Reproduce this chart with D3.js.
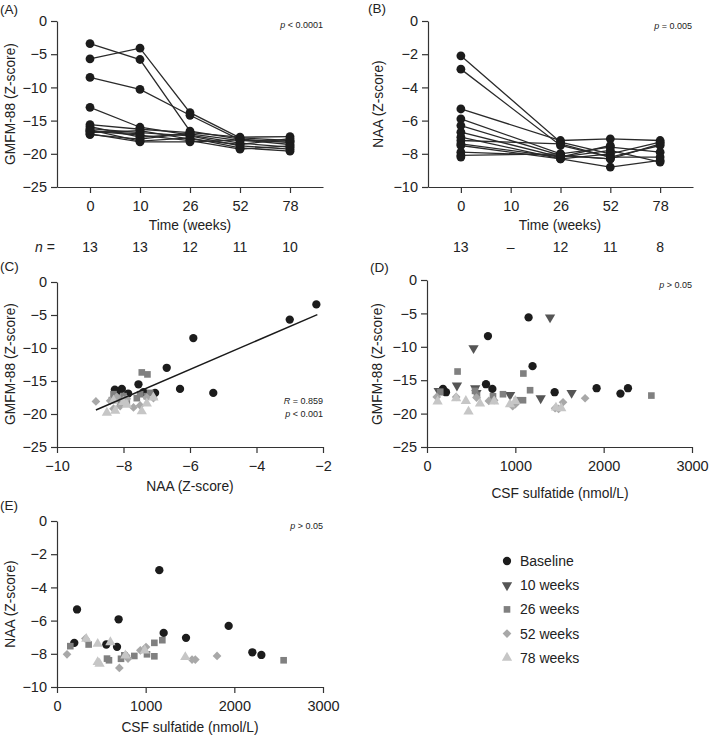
<!DOCTYPE html>
<html>
<head>
<meta charset="utf-8">
<script src="https://cdn.jsdelivr.net/npm/d3@7"></script>
<style>
  body { margin: 0; background: #fff; }
  svg { font-family: "Liberation Sans", Arial, Helvetica, sans-serif; }
  .axis path, .axis line { stroke: #333; stroke-width: 1.2; }
  .axis text { fill: #222; font-size: 14.5px; }
</style>
</head>
<body>
<svg id="chart" width="709" height="735"></svg>
<script>
// ---- data ----
var weeks = ['0', '10', '26', '52', '78'];

// GMFM-88 z-scores per patient at 0,10,26,52,78 weeks (null = missing)
var gmfmBySubject = [
  [-3.4, -5.8, -16.6, -17.8, -18.3],
  [-5.7, -4.1, -13.8, -17.6, -18.0],
  [-8.5, -10.3, -14.2, -17.9, -18.6],
  [-13.0, -16.0, -17.2, -18.4, -19.0],
  [-15.6, -16.3, -16.8, -17.5, -17.4],
  [-15.9, -17.5, -17.0, -18.0, -18.1],
  [-16.2, -16.8, -17.3, -18.8, -19.3],
  [-16.4, -18.1, -17.6, -19.1, -19.6],
  [-16.6, -17.2, -18.0, -19.3, -18.8],
  [-16.8, -16.5, -17.8, -18.6, -17.7],
  [-17.0, -18.2, -18.2, -17.9, null],
  [-17.1, -17.8, -16.9, null, null],
  [-16.5, -17.0, null, null, null]
];

// NAA z-scores per patient (no MRS at 10 weeks)
var naaBySubject = [
  [-2.1, null, -7.3, -8.0, -7.3],
  [-2.9, null, -7.5, -8.2, -7.5],
  [-5.3, null, -7.2, -7.1, -7.2],
  [-5.9, null, -8.0, -7.6, -7.9],
  [-6.3, null, -8.1, -8.3, -7.4],
  [-6.7, null, -8.2, -7.8, -8.5],
  [-7.0, null, -8.3, -8.8, -8.4],
  [-7.2, null, -7.4, -8.2, -8.2],
  [-7.4, null, -8.2, -7.5, null],
  [-7.5, null, -8.3, -8.0, null],
  [-7.9, null, -8.1, -8.3, null],
  [-8.1, null, -8.0, null, null],
  [-8.2, null, null, null, null]
];

var nGmfm = ['13', '13', '12', '11', '10'];
var nNaa = ['13', '\u2013', '12', '11', '8'];

var timepoints = ['Baseline', '10 weeks', '26 weeks', '52 weeks', '78 weeks'];

// (C) NAA vs GMFM-88
var cBaseline = [[-2.2, -3.4], [-3.0, -5.7], [-5.9, -8.5], [-6.7, -13.0], [-6.3, -16.2], [-5.3, -16.8],
  [-7.55, -15.5], [-8.05, -16.2], [-8.26, -16.3], [-7.86, -16.9], [-7.4, -16.7], [-7.05, -16.8], [-8.2, -16.6]];
var c26 = [[-7.45, -13.7], [-7.28, -14.0], [-8.3, -17.0], [-8.0, -17.3], [-7.5, -17.0], [-8.1, -18.2],
  [-7.2, -16.8], [-8.2, -17.6], [-7.9, -18.3], [-7.3, -17.3], [-8.35, -17.9], [-7.6, -17.6]];
var c52 = [[-8.83, -18.1], [-8.3, -19.2], [-8.4, -18.0], [-7.7, -19.0], [-7.5, -18.7], [-8.1, -18.8],
  [-7.9, -17.7], [-7.3, -17.5], [-8.2, -17.4], [-7.1, -17.6], [-8.0, -17.9]];
var c78 = [[-8.5, -19.8], [-8.25, -19.5], [-7.45, -19.6], [-7.3, -18.4], [-7.9, -18.6], [-7.1, -17.5],
  [-8.3, -18.0], [-8.0, -18.2]];
var regressionNaa = [-8.83, -2.17];
var regressionGmfm = [-19.4, -4.94];

// (D) CSF sulfatide vs GMFM-88
var dBaseline = [[181, -16.3], [215, -16.8], [668, -15.6], [690, -8.4], [740, -16.3], [1150, -5.6],
  [1195, -12.9], [1445, -16.8], [1920, -16.2], [2190, -17.0], [2275, -16.2]];
var d10 = [[132, -16.6], [339, -15.8], [527, -10.2], [546, -16.2], [560, -16.9], [941, -17.2],
  [1287, -17.7], [1393, -5.6], [1637, -16.9]];
var d26 = [[150, -16.8], [346, -13.7], [544, -16.6], [566, -17.3], [747, -17.4], [860, -17.1],
  [1019, -18.0], [1087, -18.0], [1091, -14.0], [1167, -16.5], [2540, -17.3]];
var d52 = [[110, -17.5], [330, -17.5], [560, -17.6], [700, -18.1], [760, -18.0], [970, -18.9],
  [1000, -18.6], [1450, -19.2], [1490, -19.3], [1540, -18.3], [1790, -17.7]];
var d78 = [[120, -18.2], [330, -17.7], [440, -18.1], [470, -19.7], [600, -18.5], [760, -18.2],
  [940, -18.6], [1000, -18.1], [1460, -19.1], [1520, -19.2]];

// (E) CSF sulfatide vs NAA
var eBaseline = [[195, -7.34], [226, -5.33], [556, -7.44], [677, -7.58], [695, -5.92], [1154, -2.96],
  [1203, -6.74], [1455, -7.04], [1936, -6.32], [2203, -7.91], [2305, -8.07]];
var e26 = [[150, -7.54], [357, -7.44], [564, -8.29], [586, -8.39], [722, -8.3], [759, -8.09], [872, -8.13],
  [1015, -8.03], [1098, -7.34], [1098, -8.15], [1188, -7.18], [2556, -8.39]];
var e52 = [[113, -8.03], [320, -7.08], [703, -8.85], [801, -8.29], [940, -7.79], [1004, -7.59],
  [1523, -8.35], [1560, -8.35], [1805, -8.13], [780, -8.1]];
var e78 = [[330, -7.1], [459, -7.4], [459, -8.5], [480, -8.6], [602, -7.3], [771, -8.1],
  [1447, -8.2], [990, -7.8]];

// ---- drawing ----
var svg = d3.select('#chart');
var fills = ['#1c1c1c', '#555555', '#808080', '#a8a8a8', '#c6c6c6'];
var fmt = d3.format('d');

function marker(sel, kind) {
  var sym;
  var rot = 0;
  if (kind === 0) sym = d3.symbol().type(d3.symbolCircle).size(54);
  if (kind === 1) { sym = d3.symbol().type(d3.symbolTriangle).size(46); rot = 180; }
  if (kind === 2) sym = d3.symbol().type(d3.symbolSquare).size(44);
  if (kind === 3) { sym = d3.symbol().type(d3.symbolSquare).size(38); rot = 45; }
  if (kind === 4) sym = d3.symbol().type(d3.symbolTriangle).size(46);
  sel.attr('d', sym).attr('fill', fills[kind]);
  return rot;
}

function yAxis(g, y, ticks) {
  g.attr('class', 'axis')
   .call(d3.axisLeft(y).tickValues(ticks).tickFormat(fmt).tickSize(6).tickSizeOuter(0).tickPadding(4));
}

function xAxis(g, x, ticks) {
  var ax = d3.axisBottom(x).tickSize(6).tickSizeOuter(0).tickPadding(8);
  if (ticks) ax.tickValues(ticks).tickFormat(fmt);
  g.attr('class', 'axis').call(ax);
}

function panelLabel(x, y, txt) {
  svg.append('text').attr('x', x).attr('y', y).attr('font-size', 13.5).attr('fill', '#222').text(txt);
}

function yTitle(x, cy, txt) {
  svg.append('text')
     .attr('transform', 'translate(' + x + ',' + cy + ') rotate(-90)')
     .attr('text-anchor', 'middle').attr('font-size', 13.8).attr('fill', '#222')
     .text(txt);
}

function xTitle(cx, y, txt) {
  svg.append('text').attr('x', cx).attr('y', y)
     .attr('text-anchor', 'middle').attr('font-size', 13.8).attr('fill', '#222')
     .text(txt);
}

function statText(xr, y, italic, after) {
  var t = svg.append('text').attr('x', xr).attr('y', y)
     .attr('text-anchor', 'end').attr('font-size', 9).attr('fill', '#222');
  t.append('tspan').attr('font-style', 'italic').text(italic);
  t.append('tspan').text(after);
}

function drawTimePanel(box, subjects, domain, yTicks) {
  var x = d3.scalePoint().domain(weeks).range([box.left, box.right]).padding(0.66);
  var y = d3.scaleLinear().domain(domain).range([box.bottom, box.top]);

  svg.append('g').attr('transform', 'translate(' + box.left + ',0)').call(yAxis, y, yTicks);
  svg.append('g').attr('transform', 'translate(0,' + box.bottom + ')').call(xAxis, x);

  var line = d3.line()
    .x(function(d) { return x(d[0]); })
    .y(function(d) { return y(d[1]); });

  subjects.forEach(function(vals) {
    // lines skip missing visits (e.g. NAA at 10 weeks)
    var pts = [];
    vals.forEach(function(v, i) { if (v !== null) pts.push([weeks[i], v]); });
    svg.append('path')
       .attr('d', line(pts))
       .attr('fill', 'none').attr('stroke', '#2a2a2a').attr('stroke-width', 1.3);
  });

  subjects.forEach(function(vals) {
    vals.forEach(function(v, i) {
      if (v === null) return;
      svg.append('circle').attr('cx', x(weeks[i])).attr('cy', y(v)).attr('r', 4.4).attr('fill', '#1c1c1c');
    });
  });
  return x;
}

function drawScatterPanel(box, xDomain, xTicks, yDomain, yTicks, series) {
  var x = d3.scaleLinear().domain(xDomain).range([box.left, box.right]);
  var y = d3.scaleLinear().domain(yDomain).range([box.bottom, box.top]);

  svg.append('g').attr('transform', 'translate(' + box.left + ',0)').call(yAxis, y, yTicks);
  svg.append('g').attr('transform', 'translate(0,' + box.bottom + ')').call(xAxis, x, xTicks);

  series.forEach(function(s) {
    s.data.forEach(function(d) {
      var p = svg.append('path');
      var rot = marker(p, s.kind);
      p.attr('transform', 'translate(' + x(d[0]) + ',' + y(d[1]) + ') rotate(' + rot + ')');
    });
  });
  return { x: x, y: y };
}

// (A)
var boxA = { left: 57, right: 323, top: 21, bottom: 187 };
var xA = drawTimePanel(boxA, gmfmBySubject, [-25, 0], [0, -5, -10, -15, -20, -25]);
panelLabel(0, 14, '(A)');
yTitle(15, 104, 'GMFM-88 (Z-score)');
xTitle(190, 230, 'Time (weeks)');
statText(323, 28, 'p', ' < 0.0001');

// (B)
var boxB = { left: 428, right: 693, top: 21, bottom: 187 };
var xB = drawTimePanel(boxB, naaBySubject, [-10, 0], [0, -2, -4, -6, -8, -10]);
panelLabel(368, 13, '(B)');
yTitle(383, 104, 'NAA (Z-score)');
xTitle(560, 230, 'Time (weeks)');
statText(692, 29, 'p', ' = 0.005');

// n row
var nRow = svg.append('text').attr('x', 35).attr('y', 252).attr('font-size', 14).attr('fill', '#222');
nRow.append('tspan').attr('font-style', 'italic').text('n');
nRow.append('tspan').text(' =');
nGmfm.forEach(function(n, i) {
  svg.append('text').attr('x', xA(weeks[i])).attr('y', 252).attr('text-anchor', 'middle')
     .attr('font-size', 14).attr('fill', '#222').text(n);
});
nNaa.forEach(function(n, i) {
  svg.append('text').attr('x', xB(weeks[i])).attr('y', 252).attr('text-anchor', 'middle')
     .attr('font-size', 14).attr('fill', '#222').text(n);
});

// (C)
var boxC = { left: 57, right: 323, top: 282, bottom: 447 };
var sc = drawScatterPanel(boxC, [-10, -2], [-10, -8, -6, -4, -2], [-25, 0], [0, -5, -10, -15, -20, -25], [
  { kind: 0, data: cBaseline },
  { kind: 2, data: c26 },
  { kind: 3, data: c52 },
  { kind: 4, data: c78 }
]);
svg.append('line')
   .attr('x1', sc.x(regressionNaa[0])).attr('y1', sc.y(regressionGmfm[0]))
   .attr('x2', sc.x(regressionNaa[1])).attr('y2', sc.y(regressionGmfm[1]))
   .attr('stroke', '#1a1a1a').attr('stroke-width', 1.5);
panelLabel(0, 271, '(C)');
yTitle(15, 364, 'GMFM-88 (Z-score)');
xTitle(190, 491, 'NAA (Z-score)');
statText(323, 404, 'R', ' = 0.859');
statText(323, 417, 'p', ' < 0.001');

// (D)
var boxD = { left: 427, right: 692, top: 280, bottom: 447 };
drawScatterPanel(boxD, [0, 3000], [0, 1000, 2000, 3000], [-25, 0], [0, -5, -10, -15, -20, -25], [
  { kind: 0, data: dBaseline },
  { kind: 1, data: d10 },
  { kind: 2, data: d26 },
  { kind: 3, data: d52 },
  { kind: 4, data: d78 }
]);
panelLabel(370, 272, '(D)');
yTitle(382, 364, 'GMFM-88 (Z-score)');
xTitle(560, 498, 'CSF sulfatide (nmol/L)');
statText(692, 288, 'p', ' > 0.05');

// (E)
var boxE = { left: 57, right: 323, top: 521, bottom: 687 };
drawScatterPanel(boxE, [0, 3000], [0, 1000, 2000, 3000], [-10, 0], [0, -2, -4, -6, -8, -10], [
  { kind: 0, data: eBaseline },
  { kind: 2, data: e26 },
  { kind: 3, data: e52 },
  { kind: 4, data: e78 }
]);
panelLabel(0, 510, '(E)');
yTitle(15, 604, 'NAA (Z-score)');
xTitle(190, 732, 'CSF sulfatide (nmol/L)');
statText(323, 529, 'p', ' > 0.05');

// legend
var legend = svg.append('g').attr('transform', 'translate(507,561)');
timepoints.forEach(function(name, i) {
  var row = legend.append('g').attr('transform', 'translate(0,' + (i * 24.2) + ')');
  var p = row.append('path');
  var rot = marker(p, i);
  p.attr('transform', 'rotate(' + rot + ')');
  row.append('text').attr('x', 13).attr('y', 5).attr('font-size', 14).attr('fill', '#222').text(name);
});
</script>
</body>
</html>
